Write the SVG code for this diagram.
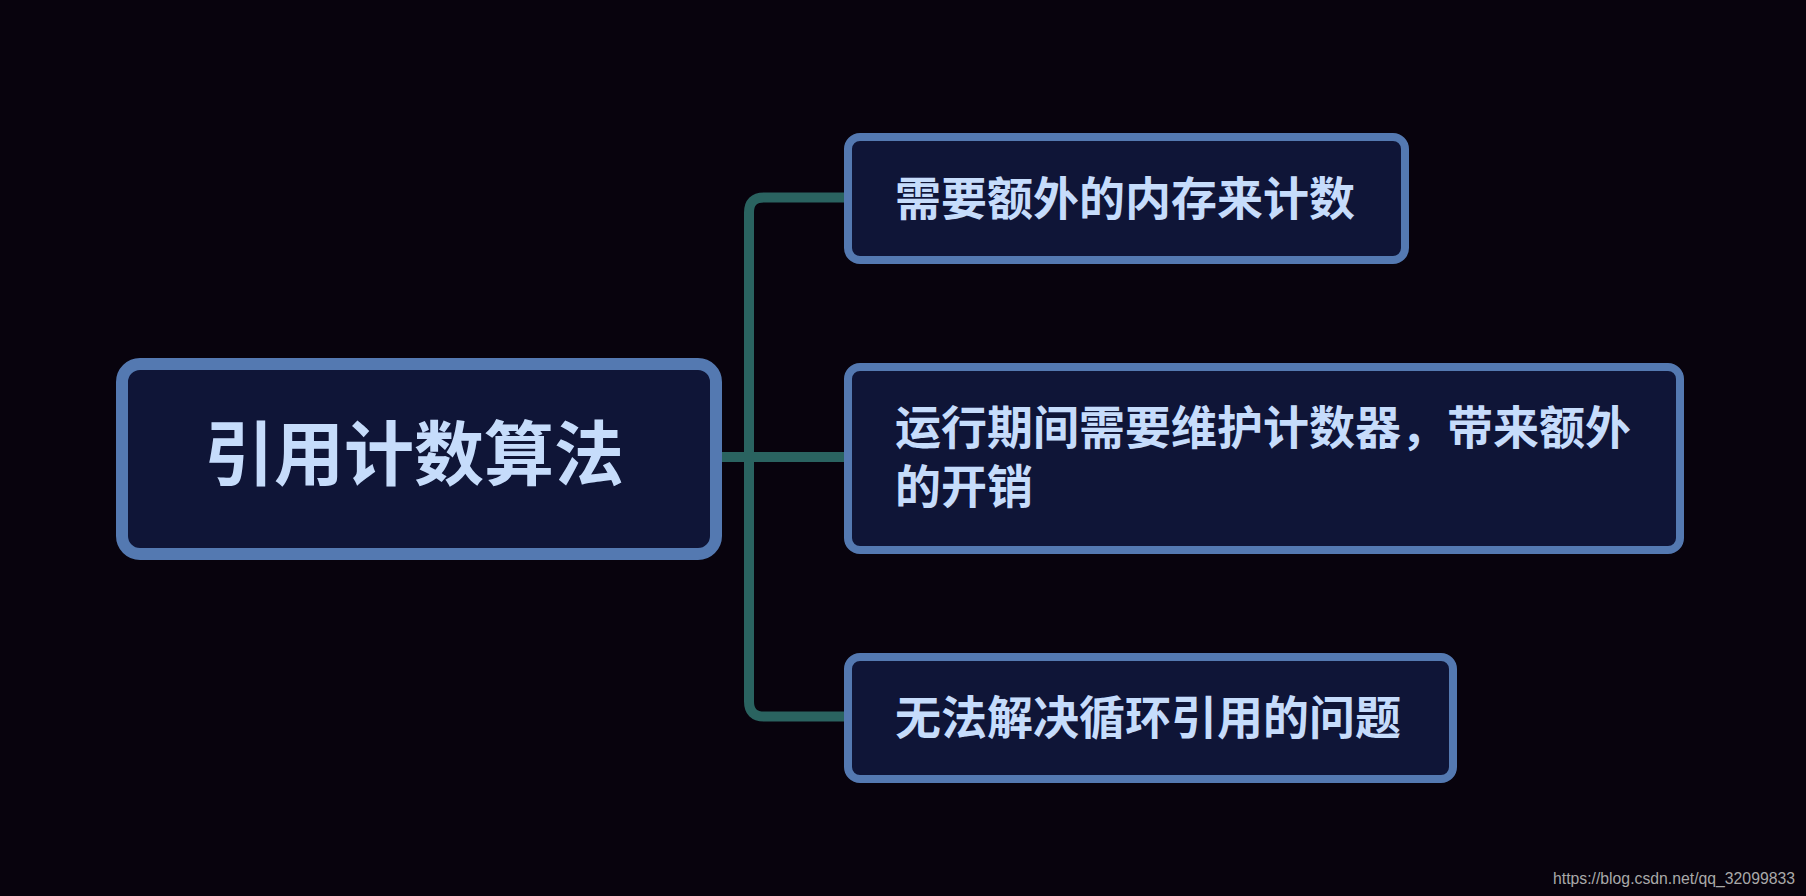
<svg xmlns="http://www.w3.org/2000/svg" width="1806" height="896" viewBox="0 0 1806 896">
  <style>
    .node rect { fill: #0f1537; stroke: #5479b1; stroke-width: 8; }
    .main rect { stroke-width: 12; }
    .label { font-family: "Noto Sans CJK SC", "Noto Sans", sans-serif; font-size: 46px; font-weight: 700; fill: #c6dcfb; }
    .main .label { font-size: 70px; }
    .conn { fill: none; stroke: #2a6360; stroke-width: 10; stroke-linejoin: round; }
    .wm { font-family: "Liberation Sans", Arial, sans-serif; font-size: 17px; fill: #a9a9a9; }
  </style>
  <rect x="0" y="0" width="1806" height="896" fill="#08030d"/>
  <g id="connectors">
    <path class="conn" d="M722 457 H848"/>
    <path class="conn" d="M848 197.5 H764 Q749 197.5 749 212.5 V701.5 Q749 716.5 764 716.5 H848"/>
  </g>
  <g id="node-main" class="node main">
    <rect x="122" y="364" width="594" height="190" rx="18" ry="18"/>
    <text class="label" x="204" y="480">引用计数算法</text>
  </g>
  <g id="node-1" class="node">
    <rect x="848" y="137" width="557" height="123" rx="12" ry="12"/>
    <text class="label" x="895" y="215">需要额外的内存来计数</text>
  </g>
  <g id="node-2" class="node">
    <rect x="848" y="367" width="832" height="183" rx="12" ry="12"/>
    <text class="label" x="895" y="444">运行期间需要维护计数器，带来额外</text>
    <text class="label" x="895" y="503">的开销</text>
  </g>
  <g id="node-3" class="node">
    <rect x="848" y="657" width="605" height="122" rx="12" ry="12"/>
    <text class="label" x="895" y="733.5">无法解决循环引用的问题</text>
  </g>
  <text class="wm" x="1553" y="884" textLength="242" lengthAdjust="spacingAndGlyphs">https://blog.csdn.net/qq_32099833</text>
</svg>
